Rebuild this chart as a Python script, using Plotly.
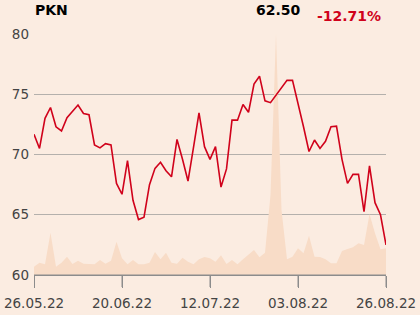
import pandas as pd
import plotly.graph_objects as go

# trading days (GPW), 26.05.22 - 26.08.22, excl. holidays 16.06 and 15.08
days = [d for d in pd.bdate_range("2022-05-26", "2022-08-26")
        if d.strftime("%Y-%m-%d") not in ("2022-06-16", "2022-08-15")]
dates = [d.strftime("%d.%m.%y") for d in days]

price = [71.68, 70.5, 73.0, 73.9, 72.3, 71.95, 73.05, 73.55, 74.1, 73.4,
         73.3, 70.8, 70.55, 70.9, 70.8, 67.6, 66.7, 69.5, 66.2, 64.6,
         64.8, 67.5, 68.85, 69.35, 68.65, 68.15, 71.25, 69.6, 67.8, 70.6,
         73.45, 70.65, 69.6, 70.65, 67.3, 68.8, 72.85, 72.85, 74.15, 73.5,
         75.85, 76.5, 74.45, 74.3, 74.95, 75.55, 76.15, 76.15, 74.3, 72.3,
         70.25, 71.2, 70.5, 71.1, 72.3, 72.35, 69.6, 67.6, 68.35, 68.35,
         65.25, 69.05, 66.0, 65.0, 62.5]

volume = [8.3, 12.3, 10.7, 42.3, 8.3, 12.3, 18.3, 11, 14.3, 11.3,
          11, 10.7, 15, 11.3, 14.3, 33.3, 16.7, 10.7, 15, 10.7,
          10.7, 12.3, 23, 15.7, 22.3, 12.3, 11.3, 17.3, 13.3, 10.7,
          15.7, 18, 16.7, 13.3, 19.7, 11, 15, 10.7, 15.7, 20,
          25, 17.7, 22.3, 80, 241, 65, 15.7, 18.3, 26.7, 21.7,
          39.3, 18.3, 18, 15.7, 11.7, 11.7, 24, 26, 27.7, 31.7,
          30, 61, 41.7, 25.7, 26.7]

tick_labels = ["26.05.22", "20.06.22", "12.07.22", "03.08.22", "26.08.22"]
symbol = "PKN"
last_price = "62.50"
change = "-12.71%"

BG = "#FBECE1"
AREA = "#F8DCC7"
RED = "#D0021B"
AXIS = "#8c8c8c"

fig = go.Figure()
# volume on the main (hidden) y axis, price on the overlaying y2 axis
fig.add_trace(go.Scatter(x=dates, y=volume, yaxis="y", mode="lines",
                         line=dict(width=0, color=AREA), fill="tozeroy",
                         fillcolor=AREA, hoverinfo="skip"))
fig.add_trace(go.Scatter(x=dates, y=price, yaxis="y2", mode="lines",
                         line=dict(color=RED, width=1.6)))

fig.update_layout(
    width=420, height=315, showlegend=False,
    paper_bgcolor=BG, plot_bgcolor=BG,
    margin=dict(l=34, r=34, t=34, b=40, autoexpand=False),
    font=dict(family="DejaVu Sans", size=13, color="#444444"),
    xaxis=dict(type="category", range=[0, len(dates) - 1], automargin=False,
               tickvals=tick_labels, ticktext=tick_labels,
               showgrid=False, showline=True, linecolor=AXIS, linewidth=1,
               ticks="outside", ticklen=12, tickcolor=AXIS, tickwidth=1,
               ticklabelstandoff=4, tickfont=dict(size=13.5)),
    yaxis=dict(range=[0, 241], showgrid=False, showticklabels=False,
               zeroline=False, ticks="", automargin=False),
    yaxis2=dict(range=[60, 80], tickvals=[60, 65, 70, 75, 80], automargin=False,
                overlaying="y", side="left", anchor="x",
                showgrid=True, gridcolor="#b4b0ac", gridwidth=1,
                zeroline=False, ticks="", ticklabelstandoff=4,
                tickfont=dict(size=13.5)),
)

# axis baseline and tick marks kept on top of the overlaid layers
fig.add_shape(type="line", xref="paper", yref="paper", x0=0, x1=1, y0=0, y1=0,
              line=dict(color=AXIS, width=1), layer="above")
for t in tick_labels:
    fig.add_shape(type="line", xref="x", yref="paper", x0=t, x1=t,
                  y0=0, y1=-12 / 241, line=dict(color=AXIS, width=1), layer="above")

ann_y = lambda py: (275 - py) / 241.0
ann_x = lambda px: (px - 34) / 352.0
fig.add_annotation(xref="x domain", yref="y domain", x=ann_x(33), y=ann_y(10),
                   text=f"<b>{symbol}</b>", showarrow=False,
                   font=dict(size=14, color="#000000"), xanchor="left", yanchor="middle")
fig.add_annotation(xref="x domain", yref="y domain", x=ann_x(303), y=ann_y(10),
                   text=f"<b>{last_price}</b>", showarrow=False,
                   font=dict(size=14, color="#000000"), xanchor="right", yanchor="middle")
fig.add_annotation(xref="x domain", yref="y domain", x=ann_x(383), y=ann_y(16),
                   text=f"<b>{change}</b>", showarrow=False,
                   font=dict(size=14, color=RED), xanchor="right", yanchor="middle")

fig.write_html("out.html")
